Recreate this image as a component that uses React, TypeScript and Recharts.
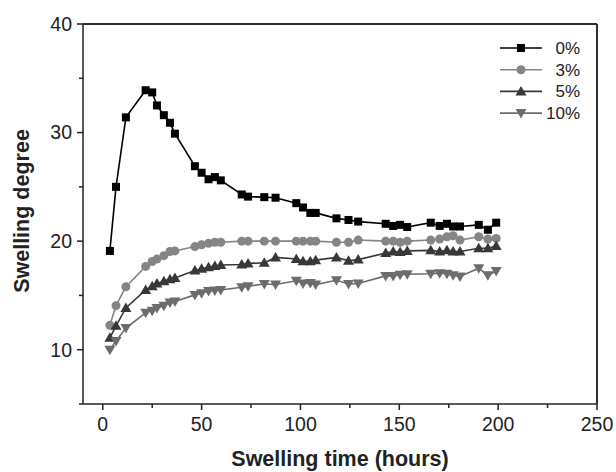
import { LineChart, Line, XAxis, YAxis, CartesianGrid } from 'recharts';

// swelling time (hours), shared by all series
const times = [3.6, 6.7, 11.7, 21.7, 25.0, 27.4, 30.9, 34.0, 36.5, 46.6, 50.0, 53.5, 56.7, 59.7, 70.3, 73.5, 81.7, 87.4, 97.9, 101.3, 105.0, 107.7, 118.2, 124.3, 129.2, 143.1, 146.9, 150.4, 154.0, 165.9, 170.4, 174.1, 177.2, 180.7, 190.2, 194.8, 199.0];

const swell0 = [19.1, 25.0, 31.4, 33.9, 33.7, 32.5, 31.6, 30.9, 29.9, 26.9, 26.3, 25.7, 25.9, 25.6, 24.3, 24.1, 24.05, 24.0, 23.5, 23.1, 22.6, 22.6, 22.1, 21.95, 21.8, 21.6, 21.4, 21.5, 21.3, 21.7, 21.4, 21.6, 21.35, 21.35, 21.5, 21.05, 21.7];
const swell3 = [12.25, 14.06, 15.8, 17.67, 18.13, 18.35, 18.66, 19.05, 19.1, 19.5, 19.67, 19.8, 19.9, 19.9, 20.0, 20.0, 20.0, 20.0, 20.0, 20.0, 20.0, 20.0, 19.9, 19.9, 20.1, 20.0, 20.0, 19.9, 20.0, 20.1, 20.2, 20.4, 20.5, 20.1, 20.4, 20.2, 20.25];
const swell5 = [11.1, 12.2, 13.85, 15.5, 15.85, 16.1, 16.3, 16.5, 16.6, 17.3, 17.45, 17.6, 17.7, 17.8, 17.85, 17.95, 18.0, 18.5, 18.35, 18.15, 18.15, 18.25, 18.5, 18.2, 18.3, 18.9, 19.05, 19.0, 19.1, 19.15, 19.05, 19.15, 19.05, 19.05, 19.35, 19.35, 19.55];
const swell10 = [10.0, 10.8, 12.0, 13.4, 13.6, 13.85, 14.05, 14.35, 14.45, 15.05, 15.2, 15.4, 15.45, 15.5, 15.75, 15.85, 16.05, 16.0, 16.35, 16.1, 16.15, 16.0, 16.4, 16.05, 16.1, 16.8, 16.8, 16.9, 16.95, 17.0, 17.05, 17.0, 16.85, 16.75, 17.5, 16.85, 17.25];

const xTicks = [0, 25, 50, 75, 100, 125, 150, 175, 200, 225, 250];
const yTicks = [5, 10, 15, 20, 25, 30, 35, 40];
const xDomain = [-10, 250];
const yDomain = [5, 40];

const series = [
  { key: 's0', name: '0%', shape: 'square', color: '#000000', values: swell0 },
  { key: 's3', name: '3%', shape: 'circle', color: '#858585', values: swell3 },
  { key: 's5', name: '5%', shape: 'up', color: '#383838', values: swell5 },
  { key: 's10', name: '10%', shape: 'down', color: '#6c6c6c', values: swell10 },
];

const data = times.map((t, i) => {
  const row: Record<string, number> = { t };
  series.forEach((s) => {
    row[s.key] = s.values[i];
  });
  return row;
});

const AXIS = '#222';
const FONT = '"Liberation Sans", Arial, sans-serif';
const W = 616;
const H = 472;
const M = { top: 24, right: 19, left: 0, bottom: 0 };
const Y_AXIS_W = 83;
const X_AXIS_H = 68;

function Marker({ cx, cy, shape, color }: { cx: number; cy: number; shape: string; color: string }) {
  if (shape === 'square') return <rect x={cx - 4} y={cy - 4} width={8} height={8} fill={color} />;
  if (shape === 'circle') return <circle cx={cx} cy={cy} r={4.5} fill={color} />;
  if (shape === 'up')
    return <polygon points={`${cx},${cy - 5.5} ${cx - 5.5},${cy + 4} ${cx + 5.5},${cy + 4}`} fill={color} />;
  return <polygon points={`${cx},${cy + 5.5} ${cx - 5.5},${cy - 4} ${cx + 5.5},${cy - 4}`} fill={color} />;
}

const dotFor = (shape: string, color: string) => (props: any) => (
  <Marker key={`${shape}-${props.index}`} cx={props.cx} cy={props.cy} shape={shape} color={color} />
);

function XTick(props: any) {
  const { x, y, payload } = props;
  const major = payload.value % 50 === 0;
  return (
    <g>
      <line x1={x} x2={x} y1={y} y2={y + (major ? 6 : 4)} stroke={AXIS} strokeWidth={1.5} />
      {major && (
        <text x={x} y={y + 27} textAnchor="middle" fontSize={19.5} fill={AXIS} fontFamily={FONT}>
          {payload.value}
        </text>
      )}
    </g>
  );
}

function YTick(props: any) {
  const { x, y, payload } = props;
  const major = payload.value % 10 === 0;
  return (
    <g>
      <line x1={x} x2={x - (major ? 6 : 4)} y1={y} y2={y} stroke={AXIS} strokeWidth={1.5} />
      {major && (
        <text x={x - 11} y={y} dy="0.35em" textAnchor="end" fontSize={19.5} fill={AXIS} fontFamily={FONT}>
          {payload.value}
        </text>
      )}
    </g>
  );
}

export default function App() {
  const left = M.left + Y_AXIS_W;
  const right = W - M.right;
  const top = M.top;
  const bottom = H - M.bottom - X_AXIS_H;
  return (
    <div style={{ position: 'absolute', left: 0, top: 0, background: '#fff' }}>
      <LineChart width={W} height={H} data={data} margin={M} style={{ fontFamily: FONT }}>
        {/* top and right edges of the frame */}
        <CartesianGrid
          horizontalPoints={[top]}
          verticalPoints={[right]}
          stroke={AXIS}
          strokeWidth={1.5}
          fill="none"
        />
        <XAxis
          dataKey="t"
          type="number"
          domain={xDomain}
          ticks={xTicks}
          interval={0}
          height={X_AXIS_H}
          tickSize={0}
          tickMargin={0}
          tickLine={false}
          tick={<XTick />}
          axisLine={{ stroke: AXIS, strokeWidth: 1.5 }}
        />
        <YAxis
          type="number"
          domain={yDomain}
          ticks={yTicks}
          interval={0}
          width={Y_AXIS_W}
          tickSize={0}
          tickMargin={0}
          tickLine={false}
          tick={<YTick />}
          axisLine={{ stroke: AXIS, strokeWidth: 1.5 }}
        />
        {series.map((s) => (
          <Line
            key={s.key}
            dataKey={s.key}
            name={s.name}
            stroke={s.color}
            strokeWidth={1.6}
            dot={dotFor(s.shape, s.color)}
            activeDot={false}
            isAnimationActive={false}
          />
        ))}
        <text x={340} y={466} textAnchor="middle" fontSize={21.5} fontWeight="bold" fill={AXIS} fontFamily={FONT}>
          Swelling time (hours)
        </text>
        <text
          transform="translate(29,211) rotate(-90)"
          textAnchor="middle"
          fontSize={21.5}
          fontWeight="bold"
          fill={AXIS}
          fontFamily={FONT}
        >
          Swelling degree
        </text>
        {series.map((s, i) => {
          const ly = 48 + i * 21.7;
          return (
            <g key={`lg-${s.key}`}>
              <line x1={500} x2={542} y1={ly} y2={ly} stroke={s.color} strokeWidth={1.6} />
              <Marker cx={521} cy={ly} shape={s.shape} color={s.color} />
              <text x={580} y={ly} dy="0.35em" textAnchor="end" fontSize={17} fill={AXIS} fontFamily={FONT}>
                {s.name}
              </text>
            </g>
          );
        })}
        <g>
          <line x1={left} x2={right} y1={top} y2={top} stroke={AXIS} strokeWidth={1.5} />
          <line x1={right} x2={right} y1={top} y2={bottom} stroke={AXIS} strokeWidth={1.5} />
        </g>
      </LineChart>
    </div>
  );
}
